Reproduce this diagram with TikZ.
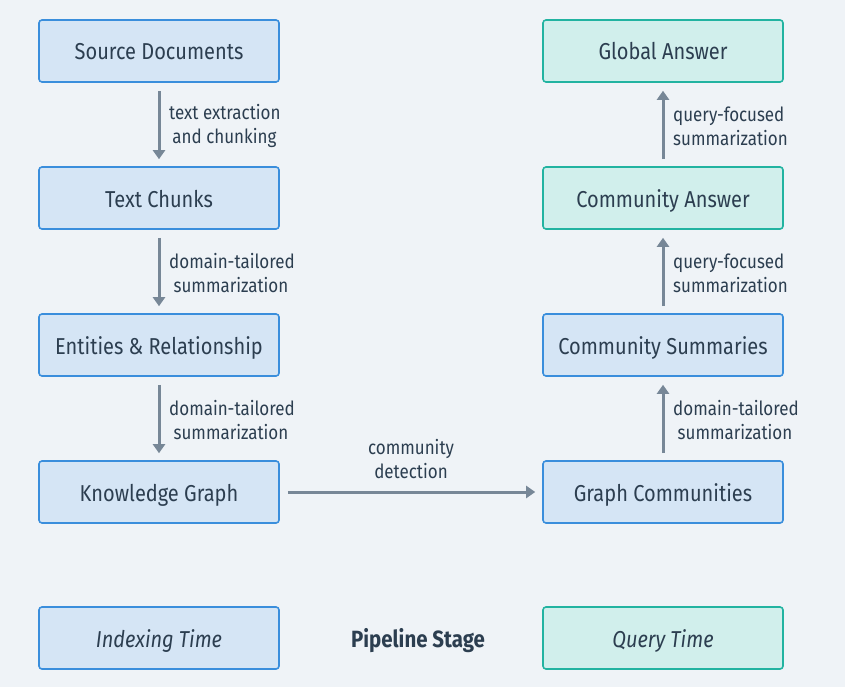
\documentclass[tikz,border=0pt]{standalone}
\usepackage{fontspec}
\setmainfont{Fira Sans}[FakeStretch=0.87]
\usetikzlibrary{arrows.meta}
\definecolor{bg}{HTML}{EFF3F7}
\definecolor{bfill}{HTML}{D5E5F5}
\definecolor{bline}{HTML}{3A8EDC}
\definecolor{tfill}{HTML}{D1EFEC}
\definecolor{tline}{HTML}{22B3A1}
\definecolor{txt}{HTML}{2C3E50}
\definecolor{arr}{HTML}{778797}
\tikzset{
  blbox/.style={draw=bline, fill=bfill, line width=1.6pt, rounded corners=3pt, minimum width=240pt, minimum height=62pt, text=txt, font=\fontsize{23}{27}\selectfont, inner sep=0pt, text height=20pt, text depth=2pt},
  tlbox/.style={blbox, draw=tline, fill=tfill},
  flow/.style={draw=arr, line width=3pt, -{Triangle[width=12pt,length=9pt]}},
  lbl/.style={text=txt, font=\fontsize{19.5}{24}\selectfont, align=left, anchor=west, inner sep=0pt},
}
\begin{document}
\begin{tikzpicture}[x=1pt,y=-1pt]
\fill[bg] (0,0) rectangle (845,687);
\useasboundingbox (0,0) rectangle (845,687);
\node[blbox] (src) at (159,51) {Source Documents};
\node[blbox] (chk) at (159,198) {Text Chunks};
\node[blbox] (ent) at (159,345) {Entities \& Relationship};
\node[blbox] (kg) at (159,492) {Knowledge Graph};
\node[tlbox] (ga) at (663,51) {Global Answer};
\node[tlbox] (ca) at (663,198) {Community Answer};
\node[blbox] (cs) at (663,345) {Community Summaries};
\node[blbox] (gc) at (663,492) {Graph Communities};
\node[blbox, font=\fontsize{23}{27}\selectfont\itshape] (it) at (159,638) {Indexing Time};
\node[tlbox, font=\fontsize{23}{27}\selectfont\itshape] (qt) at (663,638) {Query Time};
\node[text=txt, font=\fontsize{23.5}{27}\selectfont\bfseries, inner sep=0pt, text height=20pt, text depth=2pt] (ps) at (418,638) {Pipeline Stage};

\draw[flow] ([yshift=-8pt]src.south) -- ([yshift=7pt]chk.north);
\draw[flow] ([yshift=-8pt]chk.south) -- ([yshift=7pt]ent.north);
\draw[flow] ([yshift=-8pt]ent.south) -- ([yshift=7pt]kg.north);
\draw[flow] ([xshift=8pt]kg.east) -- ([xshift=-7pt]gc.west);
\draw[flow] ([yshift=7pt]gc.north) -- ([yshift=-8pt]cs.south);
\draw[flow] ([yshift=7pt]cs.north) -- ([yshift=-8pt]ca.south);
\draw[flow] ([yshift=7pt]ca.north) -- ([yshift=-8pt]ga.south);

\node[lbl] (l1) at (169,126) {text extraction\\\,and chunking};
\node[lbl] (l2) at (169,273) {domain-tailored\\\ summarization};
\node[lbl] (l3) at (169,420) {domain-tailored\\\ summarization};
\node[lbl] (l4) at (673,126) {query-focused\\summarization};
\node[lbl] (l5) at (673,273) {query-focused\\summarization};
\node[lbl] (l6) at (673,420) {domain-tailored\\\ summarization};
\node[text=txt, font=\fontsize{19.5}{24}\selectfont, align=center, inner sep=0pt] (l7) at (411,459) {community\\detection};
\end{tikzpicture}
\end{document}
